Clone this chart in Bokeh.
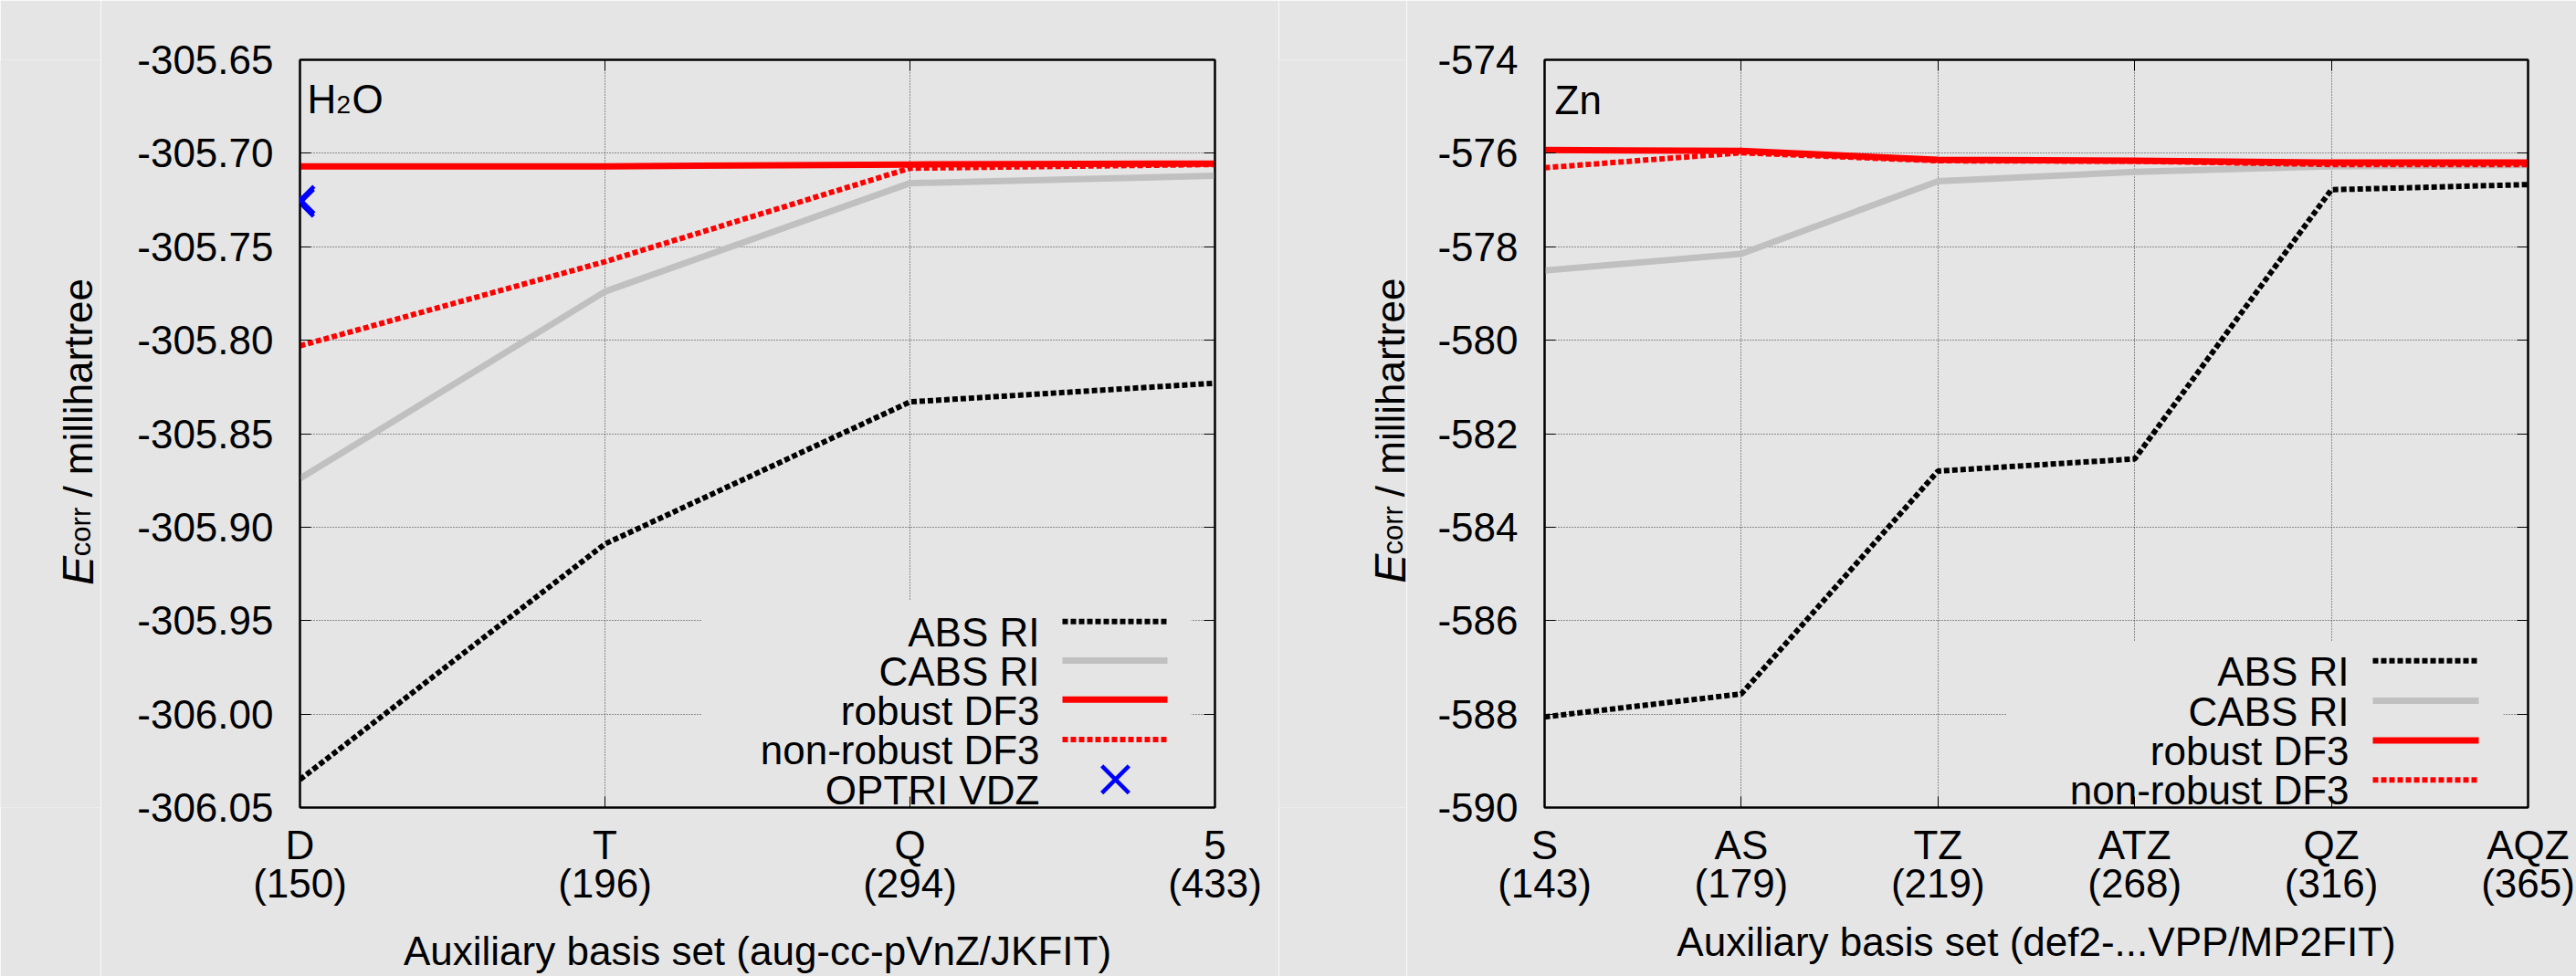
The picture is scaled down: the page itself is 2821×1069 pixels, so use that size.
import math
from bokeh.plotting import figure
from bokeh.models import (Range1d, LinearAxis, FixedTicker, Label, PrintfTickFormatter,
                          Legend, LegendItem)
from bokeh.layouts import row
from bokeh.embed import file_html
from bokeh.resources import INLINE

# ---------------- data ----------------
h2o_cats = ["D", "T", "Q", "5"]
h2o_sizes = ["150", "196", "294", "433"]
h2o_abs = [-306.035, -305.909, -305.833, -305.823]
h2o_cabs = [-305.874, -305.774, -305.716, -305.712]
h2o_robust = [-305.707, -305.707, -305.706, -305.7055]
h2o_nonrobust = [-305.803, -305.758, -305.708, -305.706]
h2o_optri_cat = ["D"]
h2o_optri = [-305.7265]
h2o_yticks = [-306.05, -306.00, -305.95, -305.90, -305.85, -305.80, -305.75, -305.70, -305.65]

zn_cats = ["S", "AS", "TZ", "ATZ", "QZ", "AQZ"]
zn_sizes = ["143", "179", "219", "268", "316", "365"]
zn_abs = [-588.06, -587.57, -582.80, -582.54, -576.78, -576.67]
zn_cabs = [-578.51, -578.15, -576.60, -576.40, -576.28, -576.25]
zn_robust = [-575.93, -575.95, -576.14, -576.16, -576.20, -576.20]
zn_nonrobust = [-576.31, -575.99, -576.16, -576.17, -576.24, -576.24]
zn_yticks = [-590, -588, -586, -584, -582, -580, -578, -576, -574]

legend_names = ["ABS RI", "CABS RI", "robust DF3", "non-robust DF3", "OPTRI VDZ"]

BG = "#e5e5e5"
FONT = "Liberation Sans"
H = 1069
STYLES = {
    "ABS RI": dict(line_color="black", line_width=6, line_dash="6 3"),
    "CABS RI": dict(line_color="#c0c0c0", line_width=7),
    "robust DF3": dict(line_color="#ff0000", line_width=7),
    "non-robust DF3": dict(line_color="#ff0000", line_width=6, line_dash="6 3"),
}
XSTYLE = dict(marker="x", size=42, line_color="#0000ff", line_width=4.5)


def make_fig(width, mb, cats, sizes, yticks, fmt, xtitle, title_standoff):
    ml, mr, mt, mbot = mb
    fw = width - ml - mr
    fh = H - mt - mbot
    n = len(cats)
    p = figure(width=width, height=H, output_backend="svg", toolbar_location=None,
               x_range=Range1d(0, n - 1), y_range=Range1d(yticks[0], yticks[-1]),
               min_border_left=ml, min_border_right=mr, min_border_top=mt,
               min_border_bottom=mbot)
    p.extra_x_ranges = {"px": Range1d(0, fw)}
    p.extra_y_ranges = {"px": Range1d(0, fh)}
    p.background_fill_color = BG
    p.border_fill_color = BG
    p.outline_line_color = "black"
    p.outline_line_width = 2

    xt = FixedTicker(ticks=list(range(n)))
    yt = FixedTicker(ticks=yticks)
    xa = p.xaxis[0]
    xa.ticker = xt
    xa.major_label_overrides = {i: f"{c}\n({s})" for i, (c, s) in enumerate(zip(cats, sizes))}
    ya = p.yaxis[0]
    ya.ticker = yt
    ya.formatter = PrintfTickFormatter(format=fmt)
    for ax in (xa, ya):
        ax.major_label_text_font = FONT
        ax.major_label_text_font_size = "44px"
        ax.major_label_text_color = "black"
        ax.major_tick_in = 12
        ax.major_tick_out = 0
        ax.major_tick_line_color = "black"
        ax.axis_line_color = "black"
        ax.axis_line_width = 2
        ax.minor_tick_line_color = None
    xa.major_label_standoff = 16
    xa.major_label_text_line_height = 0.87
    ya.major_label_standoff = 29
    xa.axis_label = xtitle
    xa.axis_label_text_font = FONT
    xa.axis_label_text_font_size = "44px"
    xa.axis_label_text_font_style = "normal"
    xa.axis_label_text_color = "black"
    xa.axis_label_standoff = title_standoff

    ra = LinearAxis(ticker=yt, major_tick_in=12, major_tick_out=0,
                    major_label_text_font_size="1px", major_label_text_color=None,
                    axis_line_color="black", axis_line_width=2, minor_tick_line_color=None)
    ta = LinearAxis(ticker=xt, major_tick_in=12, major_tick_out=0,
                    major_label_text_font_size="1px", major_label_text_color=None,
                    axis_line_color="black", axis_line_width=2, minor_tick_line_color=None)
    p.add_layout(ra, "right")
    p.add_layout(ta, "above")

    for g in (p.xgrid[0], p.ygrid[0]):
        g.grid_line_color = "#333333"
        g.grid_line_dash = "1 2"
        g.grid_line_width = 1
    p.xgrid[0].ticker = xt
    p.ygrid[0].ticker = yt
    return p


def lab(p, x, y, text, size="44px", align="left", angle=0.0, style="normal", px=True):
    kw = dict(x_range_name="px", y_range_name="px") if px else {}
    p.add_layout(Label(x=x, y=y, text=text, text_font=FONT, text_font_size=size,
                       text_align=align, text_baseline="alphabetic", angle=angle,
                       text_font_style=style, text_color="black", **kw))


def legend(p, box, rows, text_right, sample, names, marker_x=None):
    l, r, t = box
    p.quad(left=[l], right=[r], bottom=[2], top=[t], fill_color=BG, line_color=None,
           x_range_name="px", y_range_name="px")
    for name, yy in zip(names, rows):
        lab(p, text_right, yy - 12, name, align="right")
        if name in STYLES:
            p.line(x=list(sample), y=[yy, yy], x_range_name="px", y_range_name="px",
                   **STYLES[name])
        else:
            p.scatter(x=[marker_x], y=[yy], x_range_name="px", y_range_name="px", **XSTYLE)


def strip(width, top, bottom, xb, y0):
    # frame is 1:1 with page pixels (y measured up from the page bottom)
    s = figure(width=width, height=H, output_backend="svg", toolbar_location=None,
               x_range=Range1d(0, width), y_range=Range1d(bottom, H - top),
               x_axis_location=None, y_axis_location=None,
               min_border_left=0, min_border_right=0, min_border_top=top,
               min_border_bottom=bottom)
    s.grid.visible = False
    s.outline_line_color = None
    s.background_fill_color = BG
    s.border_fill_color = BG
    a = math.pi / 2
    lab(s, xb, y0, "E", size="48px", angle=a, style="italic", px=False)
    lab(s, xb + 3, y0 + 32, "corr", size="31px", angle=a, px=False)
    lab(s, xb, y0 + 97, "/ millihartree", size="44px", angle=a, px=False)
    return s


# ---------------- left: H2O ----------------
s1 = strip(110, 64, 181, 85, H - 643)
p1 = make_fig(1290, (218, 70, 64, 181), h2o_cats, h2o_sizes, h2o_yticks, "%.2f",
              "Auxiliary basis set (aug-cc-pVnZ/JKFIT)", 22)
legend(p1, (440, 976, 228), [205, 162, 119, 75, 31], 810, (835, 950), legend_names,
       marker_x=893)
xs1 = list(range(len(h2o_cats)))
for name, ys in zip(legend_names[:4], [h2o_abs, h2o_cabs, h2o_robust, h2o_nonrobust]):
    p1.line(x=xs1, y=ys, **STYLES[name])
optri = p1.scatter(x=[h2o_cats.index(c) for c in h2o_optri_cat], y=h2o_optri, **XSTYLE)
# unclipped copy of the marker sitting on the frame edge (drawn by a bare legend)
xl = Legend(items=[LegendItem(label=" ", renderers=[optri])], location=(-52.5, 666 - 52.5),
            glyph_width=105, glyph_height=105, padding=0, margin=0, spacing=0,
            label_standoff=0, label_width=0, label_height=0, label_text_font_size="1px",
            background_fill_alpha=0, border_line_color=None)
p1.add_layout(xl)
lab(p1, 8, 781, "H")
lab(p1, 40, 775, "2", size="28px")
lab(p1, 57, 781, "O")

# ---------------- right: Zn ----------------
s2 = strip(140, 65, 164, 122, H - 653)
p2 = make_fig(1281, (151, 53, 65, 164), zn_cats, zn_sizes, zn_yticks, "%d",
              "Auxiliary basis set (def2-...VPP/MP2FIT)", 12)
legend(p2, (506, 1050, 187), [165, 120, 75.5, 31], 881, (907, 1023), legend_names[:4])
xs2 = list(range(len(zn_cats)))
for name, ys in zip(legend_names[:4], [zn_abs, zn_cabs, zn_robust, zn_nonrobust]):
    p2.line(x=xs2, y=ys, **STYLES[name])
lab(p2, 11, 795, "Zn")

layout = row(s1, p1, s2, p2, spacing=0)
open("out.html", "w").write(file_html(layout, INLINE))
